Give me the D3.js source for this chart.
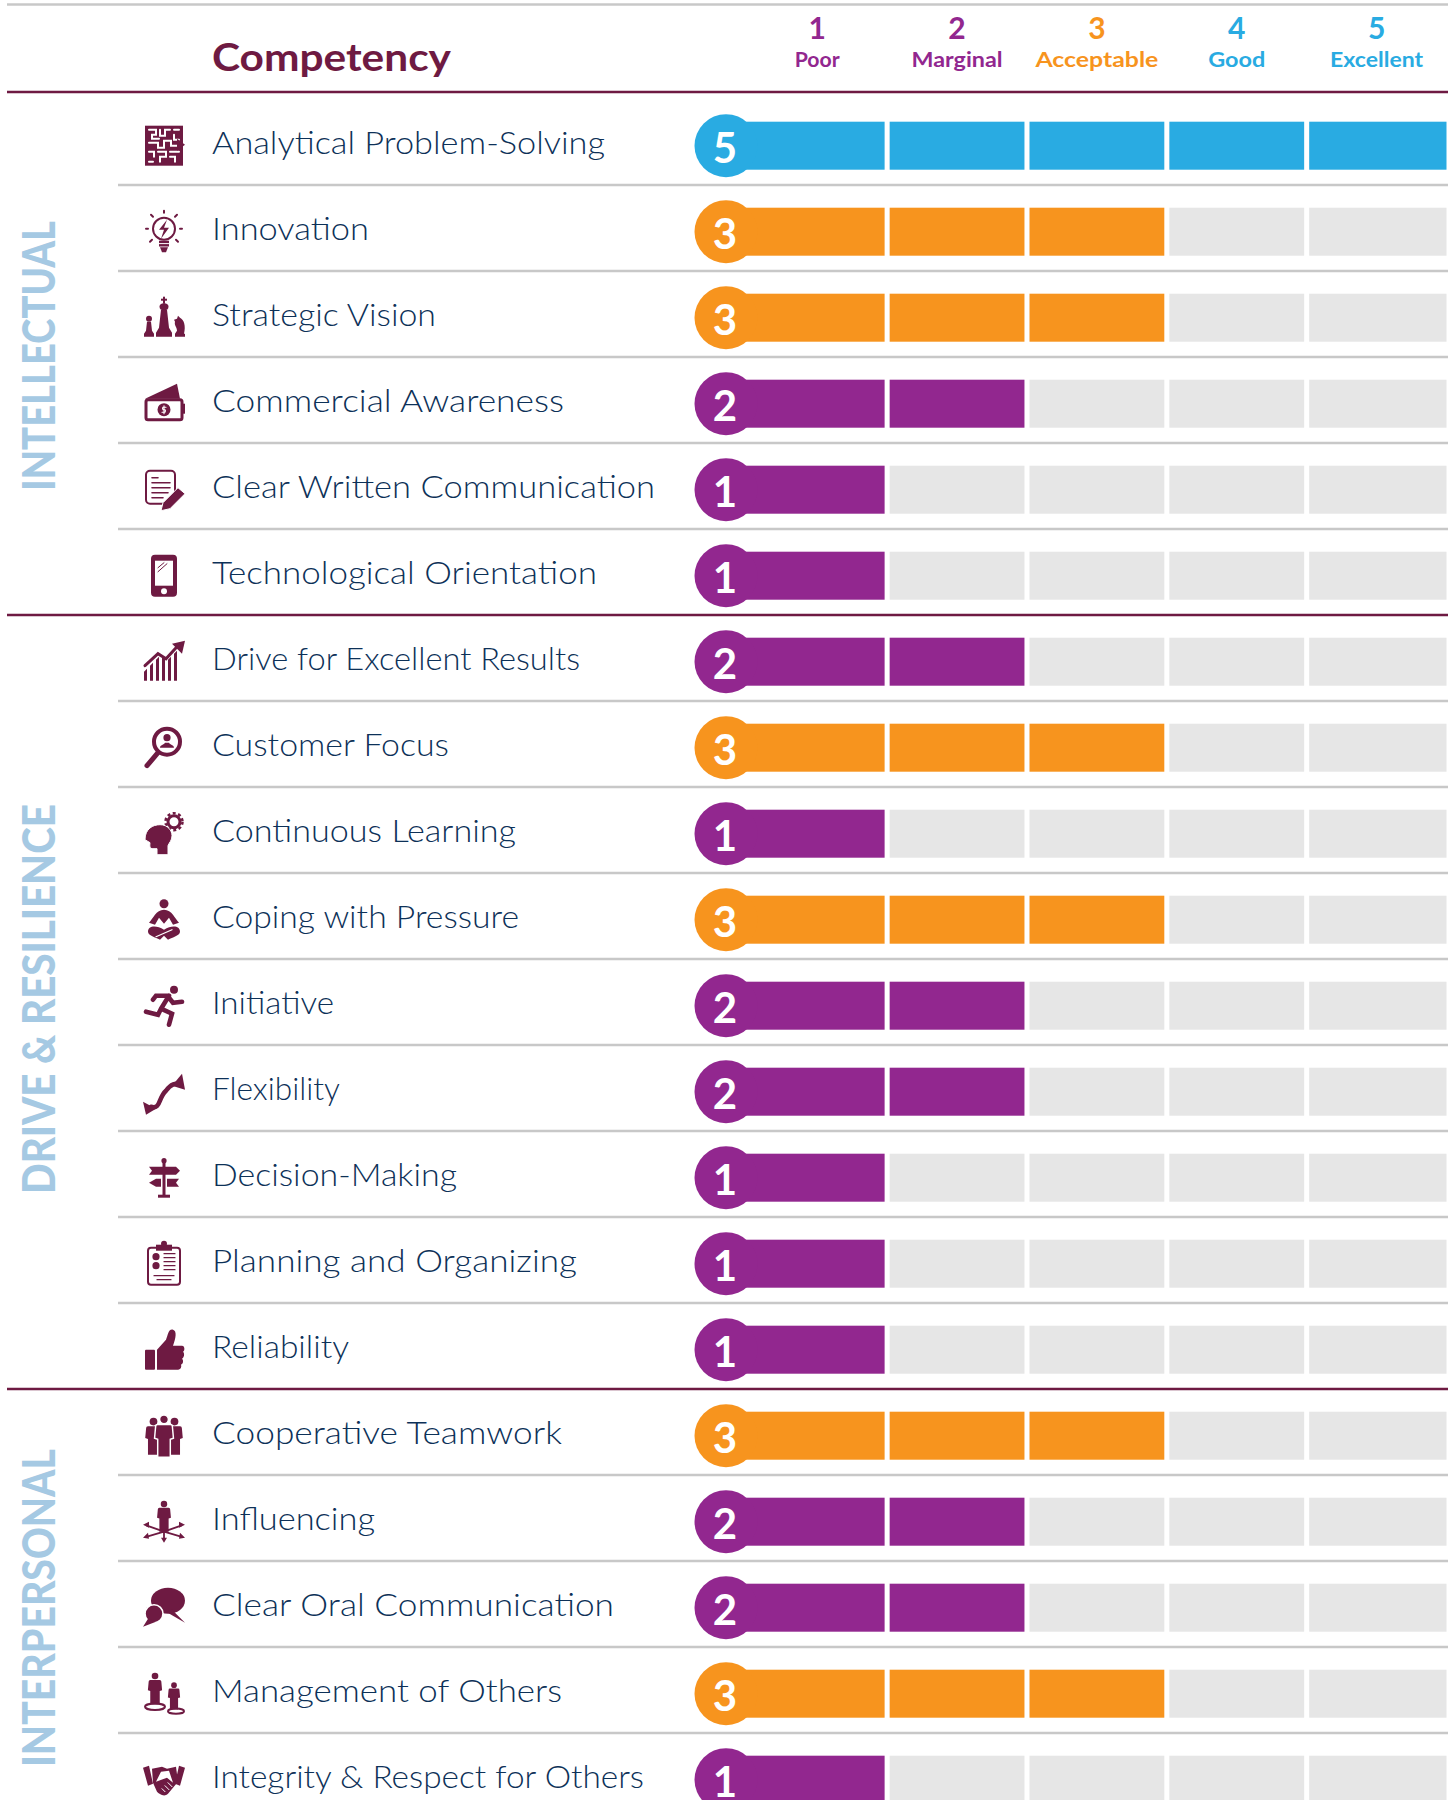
<!DOCTYPE html>
<html>
<head>
<meta charset="utf-8">
<style>
  html, body { margin: 0; padding: 0; background: #fff; }
  svg { display: block; }
  text { font-family: Lato, "Open Sans", sans-serif; }
</style>
</head>
<body>
<svg id="chart"></svg>
<script src="https://cdn.jsdelivr.net/npm/d3@7"></script>
<script>
const competencies = [
  "Analytical Problem-Solving", "Innovation", "Strategic Vision", "Commercial Awareness",
  "Clear Written Communication", "Technological Orientation", "Drive for Excellent Results",
  "Customer Focus", "Continuous Learning", "Coping with Pressure", "Initiative", "Flexibility",
  "Decision-Making", "Planning and Organizing", "Reliability", "Cooperative Teamwork",
  "Influencing", "Clear Oral Communication", "Management of Others", "Integrity & Respect for Others"
];
const scores = [5, 3, 3, 2, 1, 1, 2, 3, 1, 3, 2, 2, 1, 1, 1, 3, 2, 2, 3, 1];
const ratings = [1, 2, 3, 4, 5];
const ratingLabels = ["Poor", "Marginal", "Acceptable", "Good", "Excellent"];
const ratingColors = ["#92278f", "#92278f", "#f7941e", "#29abe2", "#29abe2"];
const groupNames = ["INTELLECTUAL", "DRIVE & RESILIENCE", "INTERPERSONAL"];
const groupFirst = ["Analytical Problem-Solving", "Drive for Excellent Results", "Cooperative Teamwork"];
const groupLast = ["Technological Orientation", "Reliability", "Integrity & Respect for Others"];

const maroon = "#6e1a42", rule = "#c8c8c8", empty = "#e6e6e6", ink = "#0d3158", groupInk = "#a5c9e3";
const width = 1450, height = 1800;
const barHeight = 48, circleR = 31.5, circleX = 726, iconX = 164, textX = 212;

// the original face is wider than Lato, so text is fitted to the widths seen in the picture
const labelWidths = [393, 157, 224, 352, 443, 385, 368, 237, 304, 307, 122, 128, 245, 365, 137, 350, 163, 402, 350, 432];
const ratingLabelWidths = [45, 91, 123, 57, 93];
const groupWidths = [270, 390, 318];
const groupShift = [-1, -3, 4];

const x = d3.scaleBand().domain(ratings).range([749.8, 1444]).paddingInner(0.036);
const y = d3.scaleBand().domain(competencies).range([99, 1819]);
const rowMid = d => y(d) + y.step() / 2 + 3.7;

const svg = d3.select("#chart").attr("width", width).attr("height", height);

// little person figure used by several of the icons
const person = (px, py, s, extra) =>
  `<g transform="translate(${px},${py}) scale(${s})" ${extra || ""}><circle cy="-17" r="4.2"/>` +
  `<path d="M-6 -12h12q2 0 2 2l1 11-3 1v17h-12v-17l-3-1 1-11q0-2 2-2z"/></g>`;
const line = (d, w, c) => `<path d="${d}" fill="none" stroke="${c || maroon}" stroke-width="${w}" stroke-linecap="round"/>`;

const icons = {
  "Analytical Problem-Solving": `<rect x="-19" y="-20" width="38" height="40"/>` +
    line("M-15 -16h7v5h-4v4h7M-4 -16v6h5v-6h5M10 -16h5M-15 -3h9v5h6v-7h7v5h7M10 -11v5h5M-15 6h5v5M-6 6h8v5h-6v5M6 6h9M6 11h5v5M-15 16h4", 2, "#fff") +
    `<path d="M13 -7l8 6-8 6z"/>`,
  "Innovation": `<circle cy="-3" r="11" fill="none" stroke="${maroon}" stroke-width="2"/>` +
    `<path d="M3 -12l-8 10h5l-3 9 8-11h-5z"/><rect x="-5" y="9" width="10" height="2.4"/><rect x="-5" y="12.4" width="10" height="2.4"/><path d="M-4 15.6h8l-2 5h-4z"/>` +
    line("M0 -21v2M-13 -17l2 2M13 -17l-2 2M-18 -3h2M16 -3h2M-14 10l2-2M14 10l-2-2", 2),
  "Strategic Vision": `<rect x="-1" y="-21" width="2" height="7"/><rect x="-3" y="-19" width="6" height="2"/><ellipse cy="-11" rx="4.5" ry="3.5"/>` +
    `<path d="M-3 -8h6l2 18 3 5v4h-16v-4l3-5z"/><circle cx="-15" cy="1" r="3"/><path d="M-17 4h4l1 9 2 3v3h-10v-3l2-3z"/>` +
    `<path d="M11 19v-3l2-3c0-4-3-5-2-9l-1-2 3-1 1-3 2 2c4 2 6 8 4 16l1 0v3z"/>`,
  "Commercial Awareness": `<path d="M-19 -5L13 -20L16 -5z"/><rect x="-18" y="-4" width="36" height="20" rx="2" fill="#fff" stroke="${maroon}" stroke-width="3"/>` +
    `<rect x="18" y="0" width="3" height="10"/><circle cy="6" r="6.5"/>` + line("M2 3.5h-3q-1 1 0 2.5h2q1 1 0 2.5h-3M0 2v8", 1.1, "#fff"),
  "Clear Written Communication": `<rect x="-18" y="-19" width="29" height="33" rx="4" fill="none" stroke="${maroon}" stroke-width="2"/>` +
    line("M-12 -12h6M-12 -7h18M-12 -2h18M-12 3h16M-12 8h11", 1.6) +
    `<path d="M-3 21l2-8 15-15 7 6-15 15z" stroke="#fff" stroke-width="1"/>`,
  "Technological Orientation": `<rect x="-13" y="-21" width="26" height="42" rx="4"/><rect x="-9" y="-15" width="18" height="25" fill="#fff"/><circle cy="15.5" r="3" fill="#fff"/>` +
    line("M-6 -8l6-5M-6 -4l9-8", 1),
  "Drive for Excellent Results": `<path d="M-20 19v-9l3-3v12zM-14 19V4l3-3v18zM-8 19V-2l3-3v24zM-2 19V-6l3 3v22zM4 19V-2l3-3v24zM10 19V-8l3-3v30z"/>` +
    line("M-19 4L-6 -8L2 -3L13 -15", 3) + `<path d="M8 -18L21 -21L18 -8z"/>`,
  "Customer Focus": `<circle cx="3" cy="-6" r="13" fill="none" stroke="${maroon}" stroke-width="4"/><circle cx="3" cy="-10" r="3.6"/><path d="M-4 0c0-3 4-3 5-5h4c1 2 5 2 5 5z"/>` +
    line("M-6 5L-17 18", 5),
  "Continuous Learning": `<circle cx="10" cy="-12" r="6" fill="none" stroke="${maroon}" stroke-width="3"/><circle cx="10" cy="-12" r="8.5" fill="none" stroke="${maroon}" stroke-width="2.5" stroke-dasharray="3 2.5"/>` +
    `<path transform="translate(0,6)" stroke="#fff" stroke-width="1" d="M-19 0c0-11 8-15 15-15 8 0 12 6 12 11 0 5-3 7-4 10v9H-7v-6h-5c-3-1-2-4-2-6z"/>`,
  "Coping with Pressure": `<circle cy="-16" r="4.5"/><path d="M-15 3C-11 -1 -8 -10 0 -10C8 -10 11 -1 15 3L9 5L5 -2L0 4L-5 -2L-9 5z"/>` +
    `<path d="M-16 12c0-6 8-7 16-2 8-5 16-4 16 2 0 4-9 6-12 8l-4-4-4 4c-3-2-12-4-12-8z"/>` + line("M-8 17L8 10", 1.2, "#fff"),
  "Initiative": `<circle cx="10" cy="-16" r="4"/>` + line("M5 -10L-3 3M5 -10L-8 -10L-11 -6M5 -8L9 -3L18 -4M-3 3L8 8L5 19M-3 3L-6 9L-18 6", 4.6),
  "Flexibility": line("M-13 15C-3 18 -6 6 2 -1C7 -8 12 -9 15 -7", 4.5) + `<path d="M-21 10L-18 23L-8 17z"/><path d="M18 -18L21 -2L8 -6z"/>`,
  "Decision-Making": `<rect x="-1.5" y="-15" width="3" height="33"/><circle cy="-17" r="2.6"/><rect x="-6" y="17" width="12" height="3"/>` +
    `<path d="M-15 -11H12L16 -7L12 -3H-15L-12 -7z"/><path d="M-3 1V9H-8L-15 5L-8 1z"/><path d="M3 1H15L12 5L15 9H3z"/>`,
  "Planning and Organizing": `<rect x="-16" y="-16" width="32" height="37" rx="3" fill="none" stroke="${maroon}" stroke-width="2"/><rect x="-8" y="-19" width="16" height="6"/><circle cy="-20" r="3"/>` +
    `<circle cx="-8" cy="-7" r="3.6"/><circle cx="-8" cy="2" r="3.6"/>` + line("M0 -10h11M0 -6h11M0 -2h11M0 2h11M0 6h11M-10 12h20M-7 16h14", 1.2),
  "Reliability": `<rect x="-19" y="0" width="10" height="20" rx="1"/><path d="M-7 0L2 -10C4 -14 4 -21 9 -20C13 -19 12 -12 9 -4H18C21 -4 21 1 19 2C21 4 20 8 18 9C20 11 19 14 17 15C18 18 16 20 13 20H-7Z"/>`,
  "Cooperative Teamwork": person(-10.5, 1.5, 0.92) + person(10.5, 1.5, 0.92) + person(0, 1.5, 1.05, `stroke="#fff" stroke-width="1.4"`),
  "Influencing": person(0, -4.7, 0.77) +
    line("M0 10L-17 4M0 10L17 4M0 10L-17 15M0 10L17 15M0 10V17", 1.8) +
    `<path d="M-21 3l6-3v6zM21 3l-6-3v6zM-21 16l5-5 1 6zM21 16l-5-5-1 6zM0 21l-3-5h6z"/>`,
  "Clear Oral Communication": `<ellipse cx="4" cy="-7" rx="17" ry="13"/><path d="M8 2L21 15L2 4z"/><circle cx="-10" cy="6" r="9" stroke="#fff" stroke-width="1.6"/><path d="M-16 11L-21 19L-8 14z"/>`,
  "Management of Others": person(-9, -4.3, 0.79) + person(10, 3, 0.68) +
    `<ellipse cx="-9" cy="13" rx="10" ry="3.2" fill="none" stroke="${maroon}" stroke-width="2"/><ellipse cx="12" cy="17.5" rx="8" ry="2.6" fill="none" stroke="${maroon}" stroke-width="2"/>`,
  "Integrity & Respect for Others": `<path d="M-21 -12L-15 -14L-11 4L-16 6zM21 -12L15 -14L11 4L16 6z"/>` +
    `<path d="M-12 -11L-2 -13L3 -11L12 -13L14 2L4 14C0 18 -5 14 -7 12L-11 3z"/><path d="M-3 -8L5 -9L9 3L3 -2L-8 2z" fill="#fff"/>` +
    line("M-2 9l3 3M1 6l4 4M4 3l4 4", 1, "#fff")
};

// header
svg.append("line").attr("x1", 7).attr("x2", 1448).attr("y1", 4.5).attr("y2", 4.5)
  .attr("stroke", rule).attr("stroke-width", 2.5);

svg.append("text")
  .attr("x", textX).attr("y", 71)
  .attr("fill", maroon).attr("font-size", 38).attr("font-weight", 700)
  .attr("textLength", 239).attr("lengthAdjust", "spacingAndGlyphs")
  .text("Competency");

const head = svg.selectAll(".rating").data(ratings).enter().append("g")
  .attr("class", "rating")
  .attr("fill", (d, i) => ratingColors[i])
  .attr("text-anchor", "middle")
  .attr("font-weight", 700);
head.append("text")
  .attr("x", d => x(d) + x.bandwidth() / 2).attr("y", 39)
  .attr("font-size", 30)
  .text(d => d);
head.append("text")
  .attr("x", d => x(d) + x.bandwidth() / 2).attr("y", 67)
  .attr("font-size", 21)
  .attr("textLength", (d, i) => ratingLabelWidths[i]).attr("lengthAdjust", "spacingAndGlyphs")
  .text((d, i) => ratingLabels[i]);

// separators, plain ones first so the group rules sit on top
svg.selectAll(".sep").data(competencies.filter(d => !groupLast.includes(d))).enter().append("line")
  .attr("class", "sep")
  .attr("x1", 118).attr("x2", 1448)
  .attr("y1", d => y(d) + y.step()).attr("y2", d => y(d) + y.step())
  .attr("stroke", rule).attr("stroke-width", 2.5);

svg.selectAll(".grouprule").data([92, y("Reliability") + y.step(), y("Technological Orientation") + y.step()]).enter().append("line")
  .attr("class", "grouprule")
  .attr("x1", 7).attr("x2", 1448)
  .attr("y1", d => d).attr("y2", d => d)
  .attr("stroke", maroon).attr("stroke-width", 2.6);

// rotated group labels
svg.selectAll(".group").data(groupNames).enter().append("text")
  .attr("class", "group")
  .attr("transform", (d, i) => {
    const mid = (y(groupFirst[i]) + y(groupLast[i]) + y.step()) / 2;
    return "translate(55," + (mid + groupShift[i]) + ") rotate(-90)";
  })
  .attr("text-anchor", "middle")
  .attr("fill", groupInk).attr("font-size", 45).attr("font-weight", 900)
  .attr("textLength", (d, i) => groupWidths[i]).attr("lengthAdjust", "spacingAndGlyphs")
  .text(d => d);

// one row per competency
const rows = svg.selectAll(".row").data(competencies).enter().append("g")
  .attr("class", "row")
  .attr("transform", d => "translate(0," + rowMid(d) + ")");

rows.append("g")
  .attr("transform", "translate(" + iconX + ",0)")
  .attr("fill", maroon)
  .html(d => icons[d]);

rows.append("text")
  .attr("x", textX).attr("y", 8.5)
  .attr("fill", ink).attr("font-size", 32).attr("font-weight", 300)
  .attr("textLength", (d, i) => labelWidths[i]).attr("lengthAdjust", "spacingAndGlyphs")
  .text(d => d);

rows.each(function (d, i) {
  const score = scores[i];
  const color = ratingColors[score - 1];
  const row = d3.select(this);

  // first cell runs in under the circle, last one reaches the right edge of the rules
  row.selectAll(".cell").data(ratings).enter().append("rect")
    .attr("class", "cell")
    .attr("x", r => r === 1 ? circleX : x(r))
    .attr("width", r => r === 1 ? x(r) + x.bandwidth() - circleX : r === 5 ? x.bandwidth() + 2.5 : x.bandwidth())
    .attr("y", -barHeight / 2)
    .attr("height", barHeight)
    .attr("fill", r => r <= score ? color : empty);

  row.append("circle").attr("cx", circleX).attr("r", circleR).attr("fill", color);

  row.append("text")
    .attr("x", circleX - 1).attr("y", 17)
    .attr("text-anchor", "middle")
    .attr("fill", "#fff").attr("font-size", 42).attr("font-weight", 700)
    .text(score);
});
</script>
</body>
</html>
